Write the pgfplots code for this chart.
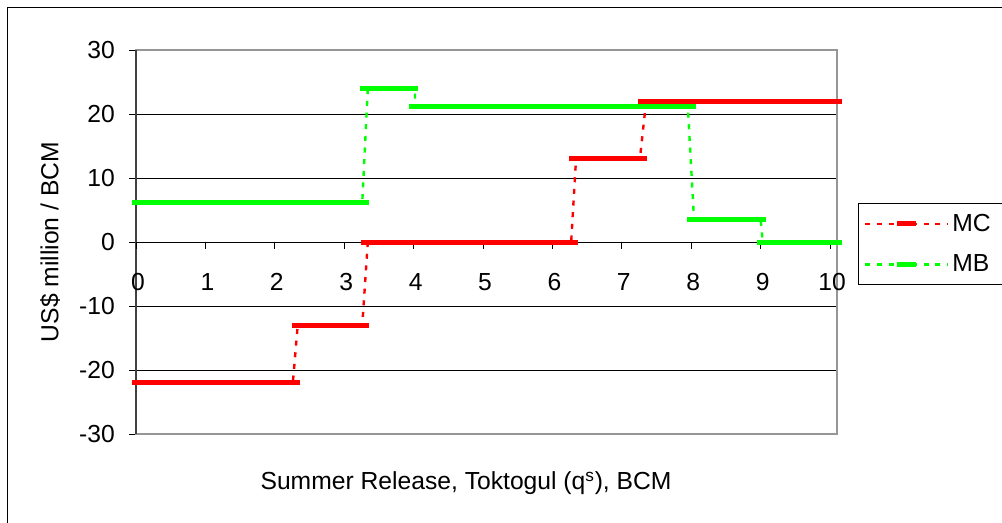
\documentclass[border=0pt]{standalone}
\usepackage{fontspec}
\setmainfont{Liberation Sans}
\usepackage{pgfplots}
\pgfplotsset{compat=1.18}
\definecolor{bordergray}{RGB}{150,150,150}
\definecolor{axisdark}{RGB}{64,64,64}
\definecolor{mcred}{RGB}{255,0,0}
\definecolor{mbgreen}{RGB}{0,255,0}
\newcommand{\chartfont}{\fontsize{18.5}{22}\selectfont}
\begin{document}
\begin{tikzpicture}
\useasboundingbox (0,0) rectangle (751.5pt,391.5pt);
\draw[black, line width=1.1pt] (5.5pt,-2pt) -- (5.5pt,386pt) -- (760pt,386pt);
\begin{axis}[
  at={(102pt,66pt)}, anchor=south west,
  scale only axis, width=525.75pt, height=288pt,
  xmin=0, xmax=10.1, ymin=-30, ymax=30,
  clip=false,
  axis line style={draw=bordergray, line width=1.6pt},
  xtick=\empty,
  ytick={-30,-20,-10,0,10,20,30},
  yticklabels={-30,-20,-10,0,10,20,30},
  ytick pos=left,
  tick align=outside,
  major tick length=5.25pt,
  ytick style={draw=black, line width=0.75pt},
  yticklabel style={font=\chartfont, inner sep=0pt, xshift=-10.5pt},
  ymajorgrids, grid style={draw=black, line width=0.75pt},
  ylabel={US\$ million / BCM},
  ylabel style={font=\chartfont, at={(axis description cs:-0.1227,0.5)}, anchor=center},
  xlabel={Summer Release, Toktogul (q\textsuperscript{s}), BCM},
  xlabel style={font=\chartfont, at={(axis description cs:0.4708,-0.1458)}, anchor=base},
  legend style={at={(axis description cs:1.030,0.6016)}, anchor=north west,
    draw=black, line width=0.9pt, font=\chartfont, inner xsep=4pt, inner ysep=6pt,
    nodes={inner sep=2pt}, row sep=12pt, column sep=0.5pt, cells={anchor=west}},
  legend image code/.code={
    \draw[#1] (0pt,0pt) -- (62pt,0pt);
    \draw[#1,solid,line width=3.75pt] (24pt,0pt) -- (38pt,0pt);
  },
]
% left axis line and x axis ticks / labels at y = 0
\draw[axisdark, line width=1.6pt] (axis cs:0,-30) -- (axis cs:0,30);
\pgfplotsinvokeforeach{0,1,2,3,4,5,6,7,8,9,10}{
  \draw[black, line width=0.75pt] (axis cs:#1,0) -- ([yshift=-5.25pt]axis cs:#1,0);
  \node[anchor=base, font=\chartfont, inner sep=0pt] at ([xshift=1.5pt,yshift=-36pt]axis cs:#1,0) {#1};
}

% MC
\addplot[mcred, line width=1.8pt, dash pattern=on 3.75pt off 5pt]
  coordinates {(-0.06,-22) (2.26,-22) (2.33,-13) (3.26,-13) (3.34,0) (6.27,0) (6.34,13) (7.26,13) (7.35,22) (10.17,22)};
\addlegendentry{MC\hspace*{12pt}}
\addplot[mcred, line width=3.75pt, forget plot] coordinates {(-0.06,-22) (2.36,-22)};
\addplot[mcred, line width=3.75pt, forget plot] coordinates {(2.25,-13) (3.36,-13)};
\addplot[mcred, line width=3.75pt, forget plot] coordinates {(3.24,0) (6.37,0)};
\addplot[mcred, line width=3.75pt, forget plot] coordinates {(6.24,13) (7.36,13)};
\addplot[mcred, line width=3.75pt, forget plot] coordinates {(7.23,22) (10.17,22)};

% MB
\addplot[mbgreen, line width=1.8pt, dash pattern=on 3.75pt off 5pt]
  coordinates {(-0.06,6.25) (3.26,6.25) (3.34,24) (4.02,24) (4.02,21.25) (7.95,21.25) (8.04,3.5) (9.0,3.5) (9.03,0) (10.17,0)};
\addlegendentry{MB\hspace*{12pt}}
\addplot[mbgreen, line width=3.75pt, forget plot] coordinates {(-0.06,6.25) (3.36,6.25)};
\addplot[mbgreen, line width=3.75pt, forget plot] coordinates {(3.23,24) (4.06,24)};
\addplot[mbgreen, line width=3.75pt, forget plot] coordinates {(3.93,21.25) (8.07,21.25)};
\addplot[mbgreen, line width=3.75pt, forget plot] coordinates {(7.94,3.5) (9.08,3.5)};
\addplot[mbgreen, line width=3.75pt, forget plot] coordinates {(8.95,0) (10.17,0)};
\end{axis}
\end{tikzpicture}
\end{document}
